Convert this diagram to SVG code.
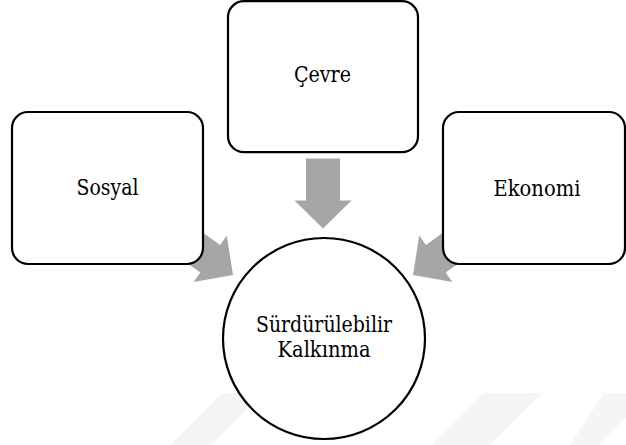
<svg xmlns="http://www.w3.org/2000/svg" width="626" height="445" viewBox="0 0 626 445">
<style>
.box{fill:#fff;stroke:#000;stroke-width:2.2}
.lbl{font-family:'DejaVu Serif','Liberation Serif',serif;font-size:22px;fill:#000;text-anchor:middle}
.arr{fill:#a6a6a6}
.wm{fill:#f5f5f5}
</style>
<defs>
<path id="arrow" d="M-70,-17 L-28,-17 L-28,-28.5 L0,0 L-28,28.5 L-28,17 L-70,17 Z"/>
</defs>
<rect width="626" height="445" fill="#fff"/>
<g id="watermark">
<polygon class="wm" points="222,393 263,393 211,445 170,445"/>
<polygon class="wm" points="484,393 542,393 490,445 432,445"/>
<polygon class="wm" points="604,393 626,393 626,418 599,445 570,445"/>
</g>
<g id="connectors">
<use href="#arrow" class="arr" transform="translate(323,228.5) rotate(90)"/>
<use href="#arrow" class="arr" transform="translate(233,275) rotate(35.5)"/>
<use href="#arrow" class="arr" transform="translate(413,275) rotate(144.5)"/>
</g>
<g id="node-cevre">
<rect class="box" x="228" y="1.2" width="190" height="151" rx="16"/>
<text class="lbl" x="322.5" y="82" textLength="57" lengthAdjust="spacingAndGlyphs">Çevre</text>
</g>
<g id="node-sosyal">
<rect class="box" x="12" y="112" width="191" height="152" rx="16"/>
<text class="lbl" x="107.5" y="195" textLength="62" lengthAdjust="spacingAndGlyphs">Sosyal</text>
</g>
<g id="node-ekonomi">
<rect class="box" x="443" y="112" width="182" height="152" rx="16"/>
<text class="lbl" x="537" y="196" textLength="87" lengthAdjust="spacingAndGlyphs">Ekonomi</text>
</g>
<g id="node-center">
<ellipse class="box" cx="324" cy="338.5" rx="101" ry="100.5"/>
<text class="lbl" x="324" y="332" textLength="136" lengthAdjust="spacingAndGlyphs">Sürdürülebilir</text>
<text class="lbl" x="324" y="357" textLength="93" lengthAdjust="spacingAndGlyphs">Kalkınma</text>
</g>
</svg>
